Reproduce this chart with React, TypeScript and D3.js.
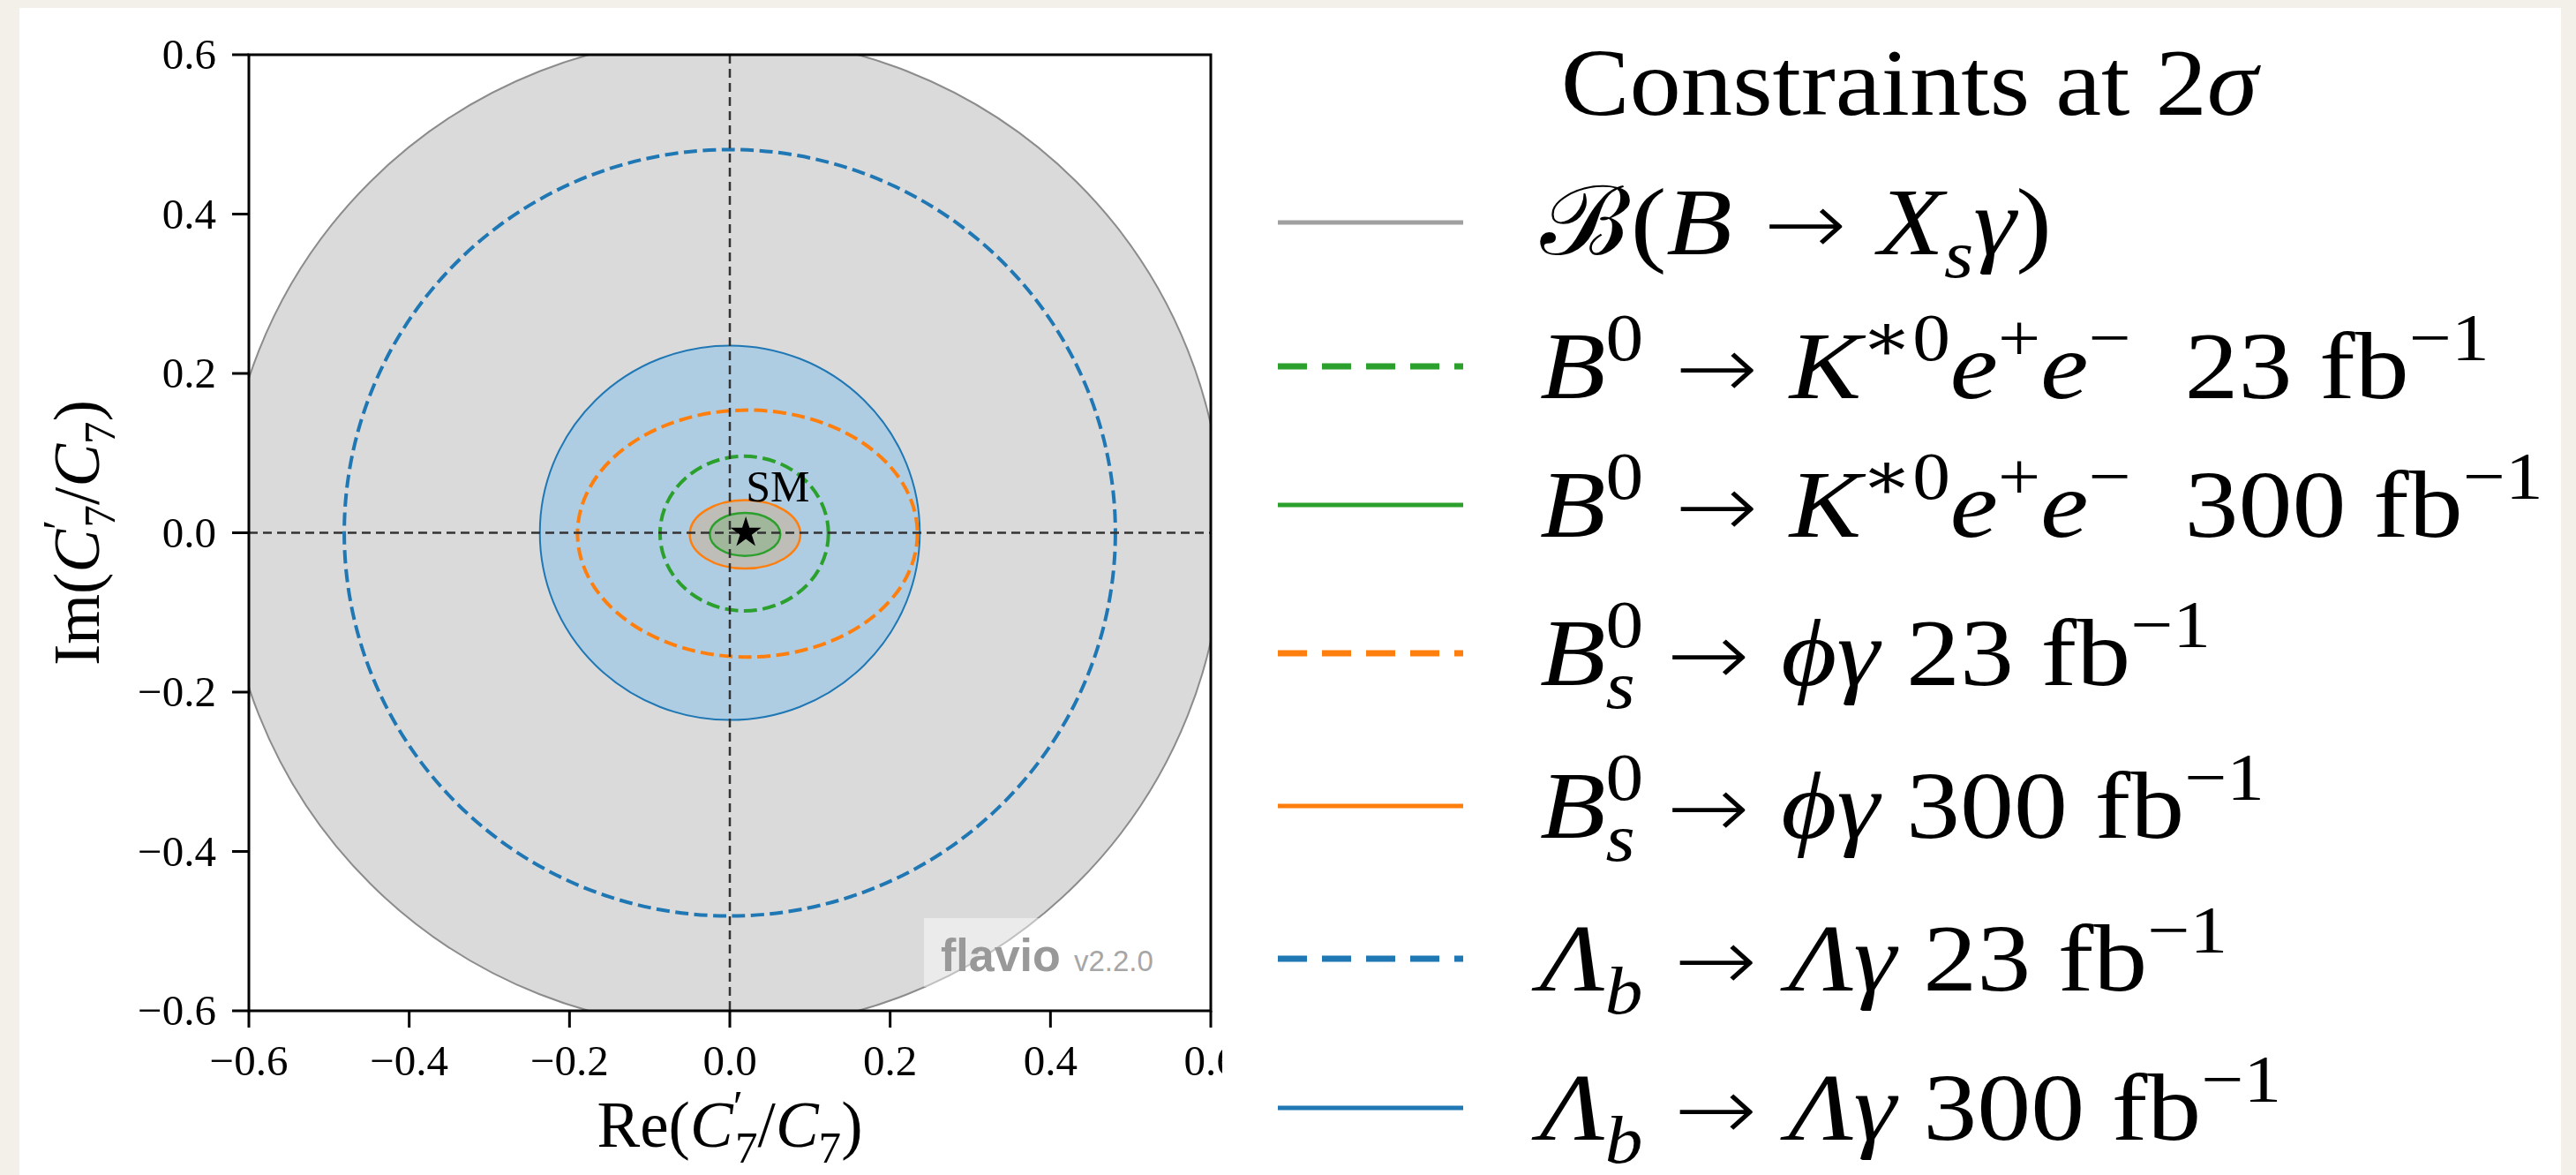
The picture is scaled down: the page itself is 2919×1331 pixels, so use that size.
import React from "react";
import * as d3 from "d3";

// axis ticks
const xTicks = [-0.6, -0.4, -0.2, 0.0, 0.2, 0.4, 0.6];
const yTicks = [-0.6, -0.4, -0.2, 0.0, 0.2, 0.4, 0.6];

// 2 sigma regions (centre and half widths, in C7'/C7 units)
const regionKeys = ["bsg", "kee23", "kee300", "phig23", "phig300", "lam23", "lam300"];
const centerRe = [-0.008, 0.018, 0.019, 0.022, 0.019, 0.0, 0.0];
const centerIm = [0.0, -0.001, -0.002, -0.001, -0.002, 0.0, 0.0];
const halfRe = [0.623, 0.105, 0.044, 0.212, 0.069, 0.481, 0.237];
const halfIm = [0.623, 0.097, 0.027, 0.155, 0.043, 0.481, 0.235];

// Standard Model point
const smRe = 0.02;
const smIm = 0.0;

const W = 2919;
const H = 1331;
const SERIF = "'Liberation Serif', 'DejaVu Serif', serif";
const SANS = "'Liberation Sans', Arial, 'DejaVu Sans', sans-serif";
const ARROW = "'DejaVu Sans', sans-serif";

const styles = {
  bsg: { stroke: "#8c8c8c", fill: "#dadada", fillOpacity: 1, dashed: false, width: 2 },
  kee23: { stroke: "#2ca02c", fill: "none", fillOpacity: 0, dashed: true, width: 4 },
  kee300: { stroke: "#2ca02c", fill: "#2ca02c", fillOpacity: 0.2, dashed: false, width: 2.5 },
  phig23: { stroke: "#ff7f0e", fill: "none", fillOpacity: 0, dashed: true, width: 4 },
  phig300: { stroke: "#ff7f0e", fill: "#ff7f0e", fillOpacity: 0.2, dashed: false, width: 2.5 },
  lam23: { stroke: "#1f77b4", fill: "none", fillOpacity: 0, dashed: true, width: 4 },
  lam300: { stroke: "#1f77b4", fill: "#aecde3", fillOpacity: 1, dashed: false, width: 2 },
};
const drawOrder = ["bsg", "lam23", "lam300", "phig23", "kee23", "phig300", "kee300"];
const legendOrder = ["bsg", "kee23", "kee300", "phig23", "phig300", "lam23", "lam300"];
const legendLineY = [252, 415, 572, 740, 913, 1086, 1255];

type Run = { t: string; i?: boolean; s?: "sup" | "sub"; dx?: number; f?: string };

const arrow: Run = { t: " → ", f: ARROW };

const legendRuns: Record<string, Run[]> = {
  bsg: [
    { t: "ℬ" }, { t: "(" }, { t: "B", i: true }, arrow, { t: "X", i: true },
    { t: "s", i: true, s: "sub" }, { t: "γ", i: true }, { t: ")" },
  ],
  kee23: [
    { t: "B", i: true }, { t: "0", s: "sup" }, arrow, { t: "K", i: true },
    { t: "∗0", s: "sup" }, { t: "e", i: true }, { t: "+", s: "sup" }, { t: "e", i: true },
    { t: "−", s: "sup" }, { t: "  23 fb" }, { t: "−1", s: "sup" },
  ],
  kee300: [
    { t: "B", i: true }, { t: "0", s: "sup" }, arrow, { t: "K", i: true },
    { t: "∗0", s: "sup" }, { t: "e", i: true }, { t: "+", s: "sup" }, { t: "e", i: true },
    { t: "−", s: "sup" }, { t: "  300 fb" }, { t: "−1", s: "sup" },
  ],
  phig23: [
    { t: "B", i: true }, { t: "0", s: "sup" }, { t: "s", i: true, s: "sub", dx: -0.35 },
    arrow, { t: "ϕγ", i: true }, { t: " 23 fb" }, { t: "−1", s: "sup" },
  ],
  phig300: [
    { t: "B", i: true }, { t: "0", s: "sup" }, { t: "s", i: true, s: "sub", dx: -0.35 },
    arrow, { t: "ϕγ", i: true }, { t: " 300 fb" }, { t: "−1", s: "sup" },
  ],
  lam23: [
    { t: "Λ", i: true }, { t: "b", i: true, s: "sub" }, arrow, { t: "Λγ", i: true },
    { t: " 23 fb" }, { t: "−1", s: "sup" },
  ],
  lam300: [
    { t: "Λ", i: true }, { t: "b", i: true, s: "sub" }, arrow, { t: "Λγ", i: true },
    { t: " 300 fb" }, { t: "−1", s: "sup" },
  ],
};

const labelRe: Run[] = [
  { t: "Re(" }, { t: "C", i: true }, { t: "′", s: "sup" }, { t: "7", s: "sub", dx: -0.12 },
  { t: "/" }, { t: "C", i: true }, { t: "7", s: "sub" }, { t: ")" },
];
const labelIm: Run[] = [
  { t: "Im(" }, { t: "C", i: true }, { t: "′", s: "sup" }, { t: "7", s: "sub", dx: -0.12 },
  { t: "/" }, { t: "C", i: true }, { t: "7", s: "sub" }, { t: ")" },
];

function MathText({ x, y, fs, runs, anchor = "start" }: { x: number; y: number; fs: number; runs: Run[]; anchor?: string }) {
  let shift = 0;
  const spans = runs.map((r, k) => {
    const target = r.s === "sup" ? -0.4 * fs : r.s === "sub" ? 0.24 * fs : 0;
    const dy = target - shift;
    shift = target;
    return (
      <tspan
        key={k}
        dy={dy}
        dx={r.dx ? r.dx * fs : undefined}
        fontStyle={r.i ? "italic" : "normal"}
        fontFamily={r.f}
        fontWeight={r.f ? 200 : undefined}
        fontSize={r.s ? fs * 0.7 : r.f ? fs * 0.92 : fs}
      >
        {r.t}
      </tspan>
    );
  });
  return (
    <text x={x} y={y} fontFamily={SERIF} fontSize={fs} textAnchor={anchor} fill="#000" style={{ whiteSpace: "pre" }}>
      {spans}
    </text>
  );
}

const fmt = (v: number) => (v < 0 ? "−" : "") + Math.abs(v).toFixed(1);

export default function App() {
  const x = d3.scaleLinear().domain([-0.6, 0.6]).range([282, 1372]);
  const y = d3.scaleLinear().domain([-0.6, 0.6]).range([1145, 62]);
  const [x0, x1] = x.range();
  const [y0, y1] = y.range();

  const star = d3.symbol().type(d3.symbolStar).size(380)() as string;
  const lx = 1745;

  return (
    <svg width={W} height={H} style={{ position: "absolute", left: 0, top: 0 }}>
      <defs>
        <clipPath id="axclip">
          <rect x={x0} y={y1} width={x1 - x0} height={y0 - y1} />
        </clipPath>
      </defs>
      <rect x={0} y={0} width={W} height={H} fill="#f3f0e9" />
      <rect x={22} y={9} width={2880} height={H - 9} fill="#ffffff" />

      {/* regions */}
      <g clipPath="url(#axclip)">
        {drawOrder.map((key) => {
          const i = regionKeys.indexOf(key);
          const s = styles[key as keyof typeof styles];
          return (
            <ellipse
              key={key}
              cx={x(centerRe[i])}
              cy={y(centerIm[i])}
              rx={x(centerRe[i] + halfRe[i]) - x(centerRe[i])}
              ry={y(centerIm[i]) - y(centerIm[i] + halfIm[i])}
              fill={s.fill}
              fillOpacity={s.fillOpacity}
              stroke={s.stroke}
              strokeWidth={s.width}
              strokeDasharray={s.dashed ? "15 6.5" : undefined}
            />
          );
        })}
        <line x1={x(0)} x2={x(0)} y1={y1} y2={y0} stroke="#333" strokeWidth={2.5} strokeDasharray="10 6" />
        <line x1={x0} x2={x1} y1={y(0)} y2={y(0)} stroke="#333" strokeWidth={2.5} strokeDasharray="10 6" />
      </g>

      {/* SM point */}
      <path d={star} transform={`translate(${x(smRe)},${y(smIm)})`} fill="#000" />
      <text x={x(smRe)} y={y(smIm) - 36} fontFamily={SERIF} fontSize={50} fill="#000">SM</text>

      {/* flavio watermark */}
      <rect x={1047} y={1040} width={285} height={78} fill="#fff" fillOpacity={0.45} />
      <text x={1066} y={1100} fontFamily={SANS} fontWeight="bold" fontSize={52} fill="#999">flavio</text>
      <text x={1217} y={1100} fontFamily={SANS} fontSize={33} fill="#a6a6a6">v2.2.0</text>

      {/* spines */}
      <rect x={x0} y={y1} width={x1 - x0} height={y0 - y1} fill="none" stroke="#000" strokeWidth={3} />

      {/* ticks */}
      {xTicks.map((t) => (
        <g key={"x" + t}>
          <line x1={x(t)} x2={x(t)} y1={y0} y2={y0 + 19} stroke="#000" strokeWidth={3} />
          <text x={x(t)} y={1218} fontFamily={SERIF} fontSize={49} textAnchor="middle" fill="#000">{fmt(t)}</text>
        </g>
      ))}
      {yTicks.map((t) => (
        <g key={"y" + t}>
          <line x1={x0 - 19} x2={x0} y1={y(t)} y2={y(t)} stroke="#000" strokeWidth={3} />
          <text x={245} y={y(t) + 16} fontFamily={SERIF} fontSize={49} textAnchor="end" fill="#000">{fmt(t)}</text>
        </g>
      ))}

      <MathText x={(x0 + x1) / 2} y={1299} fs={73} runs={labelRe} anchor="middle" />
      <g transform={`translate(112,${(y0 + y1) / 2}) rotate(-90)`}>
        <MathText x={0} y={0} fs={73} runs={labelIm} anchor="middle" />
      </g>

      {/* legend panel */}
      <rect x={1385} y={9} width={2902 - 1385} height={H - 9} fill="#ffffff" />
      <g transform={`translate(${lx},0) scale(1.08,1) translate(${-lx},0)`}>
        <text x={1767} y={130} fontFamily={SERIF} fontSize={108} fill="#000" style={{ whiteSpace: "pre" }}>
          Constraints at 2<tspan fontStyle="italic">σ</tspan>
        </text>
      </g>
      {legendOrder.map((key, k) => {
        const s = styles[key as keyof typeof styles];
        const ly = legendLineY[k];
        return (
          <g key={key}>
            <line
              x1={1448}
              x2={1658}
              y1={ly}
              y2={ly}
              stroke={key === "bsg" ? "#a0a0a0" : s.stroke}
              strokeWidth={s.dashed ? 7 : 5}
              strokeDasharray={s.dashed ? "33 17" : undefined}
            />
            <g transform={`translate(${lx},0) scale(1.13,1) translate(${-lx},0)`}>
              <MathText x={lx} y={ly + 36} fs={108} runs={legendRuns[key]} />
            </g>
          </g>
        );
      })}
    </svg>
  );
}
